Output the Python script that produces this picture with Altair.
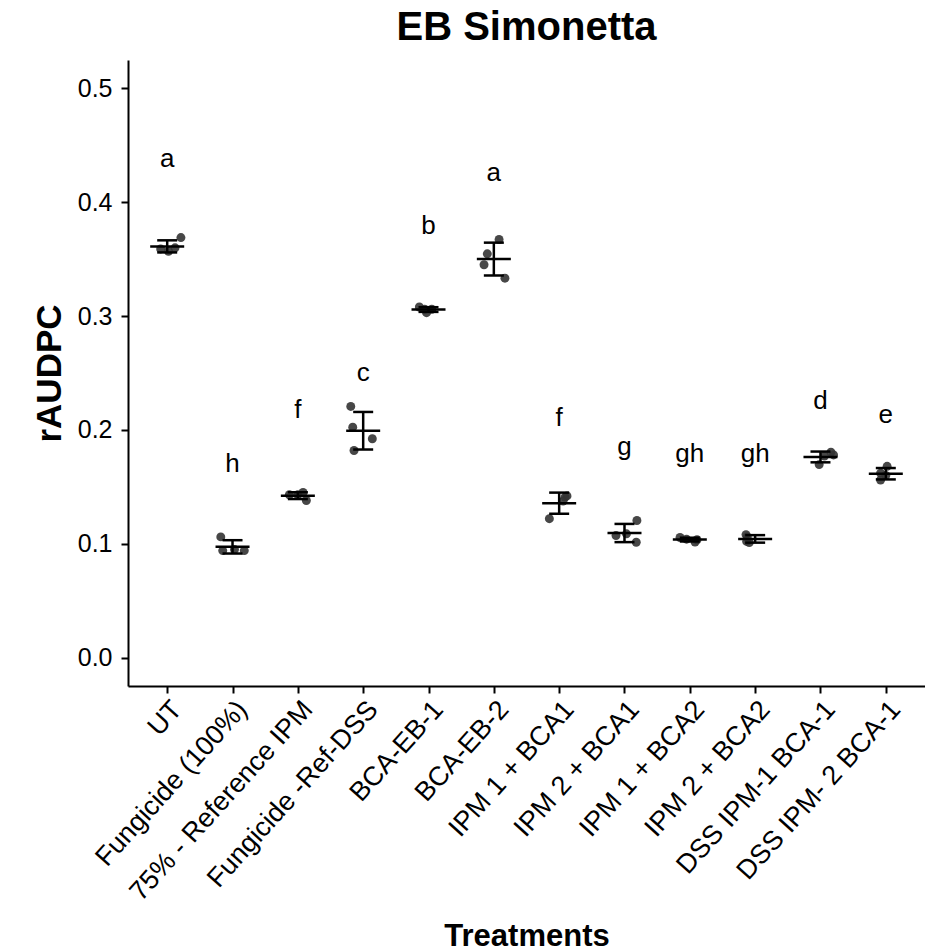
import altair as alt
import pandas as pd

treatments = ["UT", "Fungicide (100%)", "75% - Reference IPM", "Fungicide -Ref-DSS",
              "BCA-EB-1", "BCA-EB-2", "IPM 1 + BCA1", "IPM 2 + BCA1",
              "IPM 1 + BCA2", "IPM 2 + BCA2", "DSS IPM-1 BCA-1", "DSS IPM- 2 BCA-1"]

values = [
    [0.369, 0.359, 0.357, 0.360],
    [0.106, 0.094, 0.095, 0.094],
    [0.145, 0.143, 0.143, 0.138],
    [0.2206, 0.2024, 0.1922, 0.1819],
    [0.308, 0.306, 0.303, 0.306],
    [0.3673, 0.3547, 0.3451, 0.3333],
    [0.142, 0.141, 0.1375, 0.122],
    [0.1204, 0.1072, 0.1087, 0.1013],
    [0.1055, 0.104, 0.1015, 0.1035],
    [0.108, 0.106, 0.102, 0.101],
    [0.1805, 0.178, 0.177, 0.1695],
    [0.168, 0.162, 0.160, 0.156],
]

jitter = [
    [0.21, -0.10, 0.02, 0.12],
    [-0.18, -0.15, 0.03, 0.18],
    [0.08, -0.13, 0.0, 0.13],
    [-0.19, -0.16, 0.14, -0.14],
    [-0.14, -0.06, -0.03, 0.05],
    [0.08, -0.10, -0.15, 0.17],
    [0.12, 0.09, 0.06, -0.15],
    [0.19, -0.13, 0.03, 0.18],
    [-0.15, -0.05, 0.08, 0.11],
    [-0.14, -0.12, -0.13, -0.09],
    [0.16, 0.20, 0.06, -0.02],
    [0.02, -0.08, 0.0, -0.08],
]

letters = ["a", "h", "f", "c", "b", "a", "f", "g", "gh", "gh", "d", "e"]
letter_y = [0.4306, 0.1628, 0.2103, 0.2434, 0.3720, 0.4183,
            0.2033, 0.1782, 0.1716, 0.1716, 0.2182, 0.2065]

y_ticks = [0.0, 0.1, 0.2, 0.3, 0.4, 0.5]
chart_title = "EB Simonetta"

rows = []
for i, (vals, jit) in enumerate(zip(values, jitter)):
    for v, j in zip(vals, jit):
        rows.append({"idx": i, "treatment": treatments[i], "value": v, "jit": j})
pts = pd.DataFrame(rows)
lab = pd.DataFrame({"idx": list(range(len(treatments))), "letter": letters, "ly": letter_y})

FONT = "Liberation Sans, Arial, sans-serif"

xs = alt.Scale(domain=[-0.6, len(treatments) - 0.4], nice=False, zero=False)
ys = alt.Scale(domain=[-0.025, 0.525], nice=False, zero=False)

label_arr = "[" + ",".join("'" + t + "'" for t in treatments) + "]"

x_axis = alt.Axis(
    values=list(range(len(treatments))),
    labelExpr=label_arr + "[datum.value]",
    labelAngle=-48, labelAlign="right", labelBaseline="top",
    labelFont=FONT, labelFontSize=27, labelColor="black", labelPadding=3,
    labelOverlap=False, labelBound=False, labelFlush=False, labelLimit=1000,
    tickSize=7, tickWidth=2, tickColor="black",
    domainWidth=2, domainColor="black", grid=False,
    title="Treatments", titleFont=FONT, titleFontSize=31, titleFontWeight="bold",
    titleColor="black", titleX=398.5, titleY=259, titleBaseline="alphabetic",
    titleAlign="center",
)
y_axis = alt.Axis(
    values=y_ticks, format=".1f",
    labelFont=FONT, labelFontSize=25, labelColor="black", labelPadding=9,
    tickSize=7, tickWidth=2, tickColor="black",
    domainWidth=2, domainColor="black", grid=False,
    title="rAUDPC", titleFont=FONT, titleFontSize=35, titleFontWeight="bold",
    titleColor="black", titleX=-68, titleY=313, titleBaseline="alphabetic",
    titleAlign="center", titleAngle=-90,
)

X = alt.X("X:Q", scale=xs, axis=x_axis)
Y = alt.Y("Y:Q", scale=ys, axis=y_axis)

base = alt.Chart(pts)

points = base.transform_calculate(
    X="datum.idx + datum.jit", Y="datum.value"
).mark_circle(size=80, color="#333333", opacity=0.9).encode(x=X, y=Y)

stats = base.transform_aggregate(
    m="mean(value)", s="stdev(value)", groupby=["idx"]
).transform_calculate(X="datum.idx", lo="datum.m - datum.s", hi="datum.m + datum.s")

vbar = stats.transform_calculate(Y="datum.lo", Y2="datum.hi").mark_rule(
    color="black", strokeWidth=2.5
).encode(x=X, y=Y, y2="Y2:Q")
cap_lo = stats.transform_calculate(Y="datum.lo").mark_tick(
    orient="horizontal", size=20, thickness=2.5, color="black", opacity=1
).encode(x=X, y=Y)
cap_hi = stats.transform_calculate(Y="datum.hi").mark_tick(
    orient="horizontal", size=20, thickness=2.5, color="black", opacity=1
).encode(x=X, y=Y)
mean_t = stats.transform_calculate(Y="datum.m").mark_tick(
    orient="horizontal", size=34, thickness=2.5, color="black", opacity=1
).encode(x=X, y=Y)

text = alt.Chart(lab).transform_calculate(X="datum.idx", Y="datum.ly").mark_text(
    font=FONT, fontSize=26, color="black", align="center", baseline="alphabetic"
).encode(x=X, y=Y, text="letter:N")

title = alt.Chart(pd.DataFrame({"t": [chart_title]})).mark_text(
    font=FONT, fontSize=40, fontWeight="bold", color="black",
    align="center", baseline="alphabetic"
).encode(x=alt.value(398.5), y=alt.value(-20), text="t:N")

chart = alt.layer(points, vbar, cap_lo, cap_hi, mean_t, text, title).properties(
    width=797, height=626,
    background="white",
    autosize=alt.AutoSizeParams(type="none"),
    padding={"left": 128, "top": 60, "right": 0, "bottom": 266},
).configure_view(stroke="transparent", strokeWidth=0)

chart.save("out.html", embed_options={"renderer": "svg", "actions": False})
